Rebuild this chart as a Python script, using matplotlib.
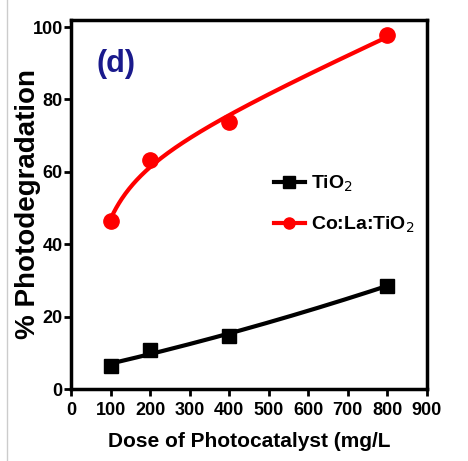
import numpy as np
import matplotlib
matplotlib.use("Agg")
import matplotlib.pyplot as plt
from matplotlib.lines import Line2D

dose = [100, 200, 400, 800]
tio2 = [6.4, 10.8, 14.8, 28.6]
colatio2 = [46.5, 63.2, 73.8, 97.8]
xticks = [0, 100, 200, 300, 400, 500, 600, 700, 800, 900]
yticks = [0, 20, 40, 60, 80, 100]

plt.rcParams['font.family'] = ['Liberation Sans', 'DejaVu Sans']

fig = plt.figure(figsize=(4.68, 4.61), dpi=100)
ax = fig.add_axes([0.152, 0.156, 0.76, 0.801])

# smooth fitted lines under the markers
xs = np.linspace(dose[0], dose[-1], 300)
x = np.array(dose, float)
q = np.polyfit(x, tio2, 2)
ax.plot(xs, np.polyval(q, xs), color='black', lw=3)
ax.plot(dose, tio2, 's', color='black', ms=10)

basis = np.column_stack([np.ones_like(x), x, 1 / x])
coef = np.linalg.lstsq(basis, np.array(colatio2), rcond=None)[0]
fit = coef[0] + coef[1] * xs + coef[2] / xs
ax.plot(xs, fit, color='red', lw=3)
ax.plot(dose, colatio2, 'o', color='red', ms=11)

ax.set_xlim(0, 900)
ax.set_ylim(0, 102)
ax.set_xticks(xticks)
ax.set_yticks(yticks)
for s in ax.spines.values():
    s.set_linewidth(2.5)
ax.tick_params(width=2, length=5, labelsize=13, pad=1)
ax.tick_params(axis='x', pad=4)
for lab in ax.get_xticklabels() + ax.get_yticklabels():
    lab.set_fontweight('bold')

ax.set_xlabel('Dose of Photocatalyst (mg/L', fontsize=15, fontweight='bold', labelpad=10)
ax.set_ylabel('% Photodegradation', fontsize=20, fontweight='bold', labelpad=-6)
ax.text(0.072, 0.88, '(d)', transform=ax.transAxes, fontsize=22,
        color='#1a1a8c', fontweight='bold', va='center')

handles = [Line2D([], [], color='black', lw=3, marker='s', ms=8),
           Line2D([], [], color='red', lw=3, marker='o', ms=8)]
ax.legend(handles, ['TiO$_2$', 'Co:La:TiO$_2$'], loc='center left',
          bbox_to_anchor=(0.52, 0.5), frameon=False,
          handlelength=1.6, handletextpad=0.3, labelspacing=1.1,
          prop={'weight': 'bold', 'size': 14})

fig.add_artist(Line2D([0.015, 0.015], [0.0, 1.0], color='#cccccc', lw=1))

fig.savefig('out.png', dpi=100)
